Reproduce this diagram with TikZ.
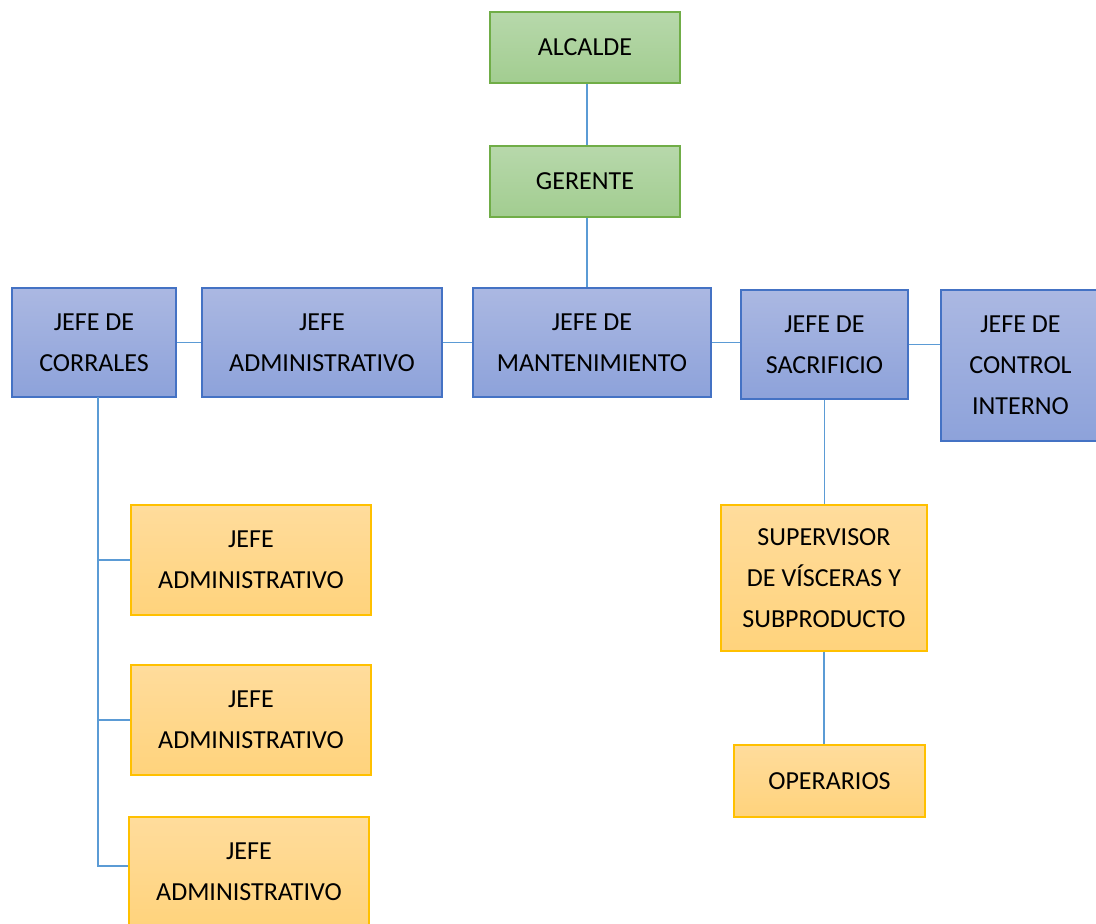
\documentclass[tikz,border=0pt]{standalone}
\usepackage{fontspec}
\setmainfont{Carlito}
\usetikzlibrary{positioning}

\definecolor{greenedge}{HTML}{70AD47}
\definecolor{greentop}{HTML}{B7D8AB}
\definecolor{greenbot}{HTML}{A2CD90}
\definecolor{blueedge}{HTML}{4472C4}
\definecolor{bluetop}{HTML}{ABB8E2}
\definecolor{bluebot}{HTML}{8DA2DA}
\definecolor{orangeedge}{HTML}{FFC000}
\definecolor{orangetop}{HTML}{FFDC9C}
\definecolor{orangebot}{HTML}{FFD37C}
\definecolor{linkblue}{HTML}{5B9BD5}

\tikzset{
  box/.style={rectangle, draw, line width=1.3pt, align=center, inner sep=0pt,
    font=\fontsize{26}{41}\selectfont},
  topbox/.style={box, draw=greenedge, top color=greentop, bottom color=greenbot,
    minimum width=190pt, minimum height=71pt},
  headbox/.style={box, draw=blueedge, top color=bluetop, bottom color=bluebot,
    minimum height=109pt},
  subbox/.style={box, draw=orangeedge, top color=orangetop, bottom color=orangebot},
  link/.style={draw=linkblue, line width=1.3pt}
}

\begin{document}
\begin{tikzpicture}[x=1pt,y=-1pt]
\useasboundingbox (0,0) rectangle (1096,924);
\clip (0,0) rectangle (1096,924);

\node[topbox] (alcalde) at (585,47.5) {ALCALDE};
\node[topbox] (gerente) at (585,181.5) {GERENTE};

\node[headbox, minimum width=164pt] (corrales) at (94,342.5) {JEFE DE\\CORRALES};
\node[headbox, minimum width=240pt] (admin) at (322,342.5) {JEFE\\ADMINISTRATIVO};
\node[headbox, minimum width=238pt] (mant) at (592,342.5) {JEFE DE\\MANTENIMIENTO};
\node[headbox, minimum width=167pt] (sacrificio) at (824.5,344.5) {JEFE DE\\SACRIFICIO};
\node[headbox, minimum width=159pt, minimum height=151pt] (control) at (1020.5,365.5) {JEFE DE\\CONTROL\\INTERNO};

\node[subbox, minimum width=240pt, minimum height=110pt] (adm1) at (251,560) {JEFE\\ADMINISTRATIVO};
\node[subbox, minimum width=240pt, minimum height=110pt] (adm2) at (251,720) {JEFE\\ADMINISTRATIVO};
\node[subbox, minimum width=240pt, minimum height=110pt] (adm3) at (249,872) {JEFE\\ADMINISTRATIVO};

\node[subbox, minimum width=206pt, minimum height=146pt] (supervisor) at (824,578) {SUPERVISOR\\DE VÍSCERAS Y\\SUBPRODUCTO};
\node[subbox, minimum width=191pt, minimum height=72pt] (operarios) at (829.5,781) {OPERARIOS};

% connectors
\coordinate (trunk) at (98,397);
\path[link] ([xshift=2pt]alcalde.south) -- ([xshift=2pt]gerente.north);
\path[link] ([xshift=2pt]gerente.south) -- ([xshift=2pt]gerente.south |- mant.north);
\path[link] (corrales.east) -- (admin.west);
\path[link] (admin.east) -- (mant.west);
\path[link] (mant.east) -- (mant.east -| sacrificio.west);
\path[link] (sacrificio.east) -- (sacrificio.east -| control.west);
\path[link] (trunk) |- ([yshift=6pt]adm3.west);
\path[link] (trunk |- adm1.west) -- (adm1.west);
\path[link] (trunk |- adm2.west) -- (adm2.west);
\path[link] (sacrificio.south) -- (sacrificio.south |- supervisor.north);
\path[link] (supervisor.south) -- (supervisor.south |- operarios.north);
\end{tikzpicture}
\end{document}
